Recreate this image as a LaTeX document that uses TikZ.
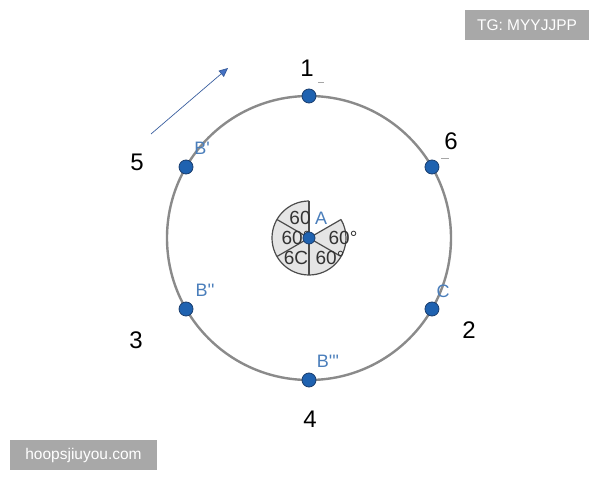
\documentclass[tikz,border=0pt]{standalone}
\usepackage{fontspec}
\setmainfont{Liberation Sans}
\usetikzlibrary{arrows.meta}
\definecolor{ringgray}{HTML}{8A8A8A}
\definecolor{dotblue}{HTML}{1F62B0}
\definecolor{dotedge}{HTML}{1A3E6E}
\definecolor{lblblue}{HTML}{4A7EBB}
\definecolor{wmgray}{HTML}{A8A8A8}
\definecolor{arrowblue}{HTML}{4472C4}
\newcommand{\sq}{\textquotesingle}
\tikzset{
  ptdot/.style={circle,fill=dotblue,draw=dotedge,line width=0.8pt,inner sep=0pt,minimum size=14pt},
  numlbl/.style={font=\fontsize{24}{24}\selectfont,text=black,inner sep=0pt},
  ptlbl/.style={font=\fontsize{18}{18}\selectfont,text=lblblue,inner sep=0pt},
  anglbl/.style={font=\fontsize{19}{19}\selectfont,text=black!80,inner sep=0pt},
  wmbox/.style={fill=wmgray,text=white,font=\fontsize{15.5}{16}\selectfont,inner sep=0pt,minimum height=30pt},
  tick/.style={draw=black!35,line width=0.8pt}
}
\begin{document}
\begin{tikzpicture}[x=1pt,y=1pt]
\useasboundingbox (0,0) rectangle (600,480);
\fill[white] (0,0) rectangle (600,480);
\coordinate (O) at (309,242);
% big circle
\draw[ringgray,line width=2.4pt] (O) circle[radius=142];
% angle disc
\fill[black!10] (O) -- ++(90:37) arc[start angle=90,end angle=390,radius=37] -- cycle;
\draw[black!70,line width=1.2pt] (O) ++(90:37) arc[start angle=90,end angle=390,radius=37];
\foreach \a in {30,90,150,210,270,330} \draw[black!70,line width=1.2pt] (O) -- ++(\a:37);
\node[anglbl] (t1) at (300,262) {60};
\node[anglbl] (t2) at (296,242) {60°};
\node[anglbl] (t3) at (343,242) {60°};
\node[anglbl] (t4) at (296,222) {6C};
\node[anglbl] (t5) at (330,222) {60°};
% points
\path (O) ++(90:142) coordinate (P1);
\path (O) ++(150:142) coordinate (Bp);
\path (O) ++(210:142) coordinate (Bpp);
\path (O) ++(270:142) coordinate (Bppp);
\path (O) ++(330:142) coordinate (C);
\path (O) ++(30:142) coordinate (P6);
\foreach \p in {P1,Bp,Bpp,Bppp,C,P6} \node[ptdot] at (\p) {};
\node[ptdot,minimum size=12pt] (A) at (O) {};
% labels
\node[ptlbl] (lA) at (321,262) {A};
\node[ptlbl] (lBp) at (202,332) {B\sq};
\node[ptlbl] (lBpp) at (205,190) {B\sq\sq};
\node[ptlbl] (lBppp) at (328,119) {B\sq\sq\sq};
\node[ptlbl] (lC) at (443,189) {C};
\node[numlbl] (n1) at (307,412) {1};
\node[numlbl] (n6) at (451,339) {6};
\node[numlbl] (n5) at (137,318) {5};
\node[numlbl] (n3) at (136,140) {3};
\node[numlbl] (n2) at (469,150) {2};
\node[numlbl] (n4) at (310,61) {4};
% small ticks
\coordinate (k1a) at (318,398); \coordinate (k1b) at (324,398);
\draw[tick] (k1a) -- (k1b);
\coordinate (k6a) at (441,322); \coordinate (k6b) at (449,322);
\draw[tick] (k6a) -- (k6b);
% arrow
\coordinate (arA) at (151,346);
\coordinate (arB) at (228,412);
\draw[arrowblue!80!black,line width=0.7pt,-{Triangle[length=9pt,width=8pt,fill=arrowblue]}] (arA) -- (arB);
% watermarks
\node[wmbox,minimum width=124pt] (tg) at (527,455) {TG: MYYJJPP};
\node[wmbox,minimum width=147pt] (hp) at (83.5,25) {hoopsjiuyou.com};
\end{tikzpicture}
\end{document}
